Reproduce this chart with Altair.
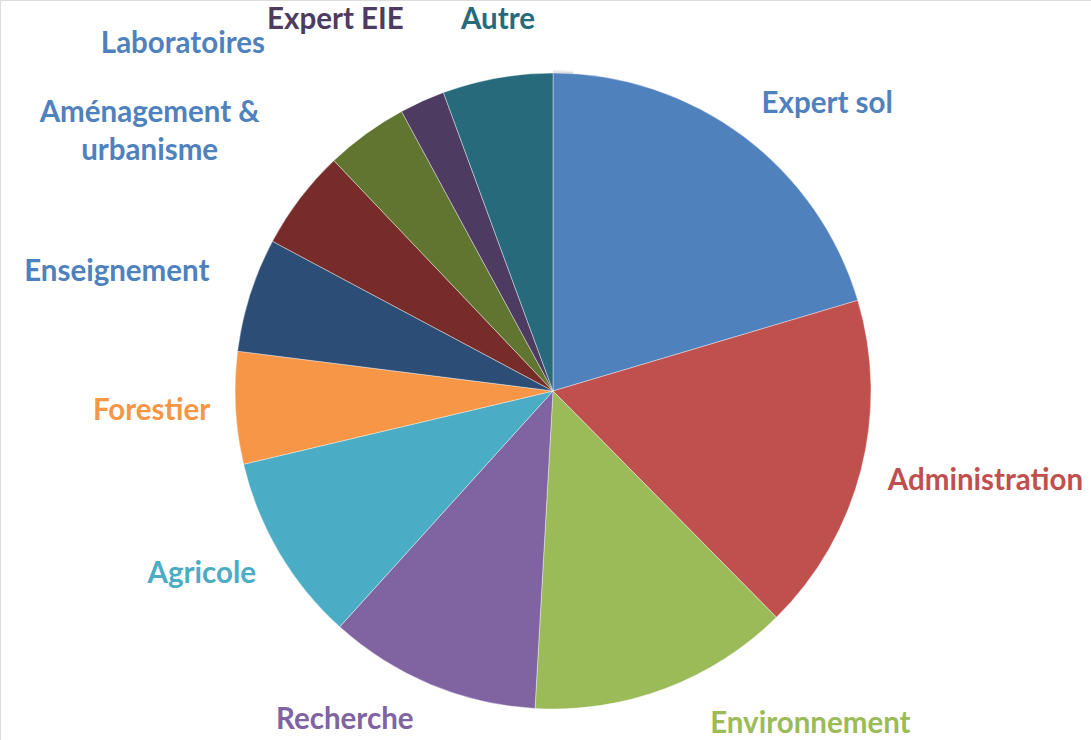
import altair as alt
import pandas as pd

categories = ["Expert sol", "Administration", "Environnement", "Recherche", "Agricole",
              "Forestier", "Enseignement", "Aménagement &\nurbanisme", "Laboratoires",
              "Expert EIE", "Autre"]
values = [20.4, 17.2, 13.3, 10.8, 9.6, 5.7, 5.8, 5.1, 4.2, 2.3, 5.6]

slice_colors = ["#4F81BD", "#C0504D", "#9BBB59", "#8064A2", "#4BACC6", "#F79646",
                "#2C4D75", "#772C2A", "#5F7530", "#4D3B62", "#276A7C"]
label_colors = ["#4F81BD", "#C0504D", "#9BBB59", "#8064A2", "#4BACC6", "#F79646",
                "#4F81BD", "#4F81BD", "#4F81BD", "#4D3B62", "#276A7C"]
# label nudges (dx, dy) from the slice-midpoint anchor
label_nudges = [(35, 34), (45, -9), (116, -41), (-54, -40), (-7, -21), (-2, -1),
                (-55, 2), (-85, -36), (-135, -23), (-53, -6), (15, 23)]

df = pd.DataFrame({"cat": categories, "value": values, "idx": list(range(len(values)))})

CX, CY, R = 553, 391, 318

base = alt.Chart(df).encode(
    theta=alt.Theta("value:Q", stack=True),
    order=alt.Order("idx:Q"),
    x=alt.value(CX),
    y=alt.value(CY),
)

shadow = alt.Chart(pd.DataFrame({"v": [1]})).mark_arc(
    outerRadius=R + 3, color="#000000", opacity=0.06
).encode(theta=alt.Theta("v:Q"), x=alt.value(CX), y=alt.value(CY))
shadow2 = alt.Chart(pd.DataFrame({"v": [1]})).mark_arc(
    outerRadius=R + 1.5, color="#000000", opacity=0.08
).encode(theta=alt.Theta("v:Q"), x=alt.value(CX), y=alt.value(CY))

arcs = base.mark_arc(outerRadius=R, stroke="#ffffff", strokeWidth=0.4).encode(
    color=alt.Color("cat:N", scale=alt.Scale(domain=categories, range=slice_colors), legend=None)
)

layers = [shadow, shadow2, arcs]
for name, col, (ndx, ndy) in zip(categories, label_colors, label_nudges):
    layers.append(
        base.mark_text(
            radius=400, font="Lato", fontSize=29.5, fontWeight="bold", color=col,
            dx=ndx, dy=ndy, lineBreak="\n", lineHeight=38, align="center", baseline="middle"
        ).encode(
            text=alt.condition(alt.datum.cat == name, alt.Text("cat:N"), alt.value(""))
        )
    )

chart = alt.layer(*layers).properties(
    width=1091, height=740,
    autosize=alt.AutoSizeParams(type="none"),
    padding=0,
).configure_view(stroke=None).configure(background="#ffffff")

chart.save("out.html", embed_options={"renderer": "svg", "actions": False})
